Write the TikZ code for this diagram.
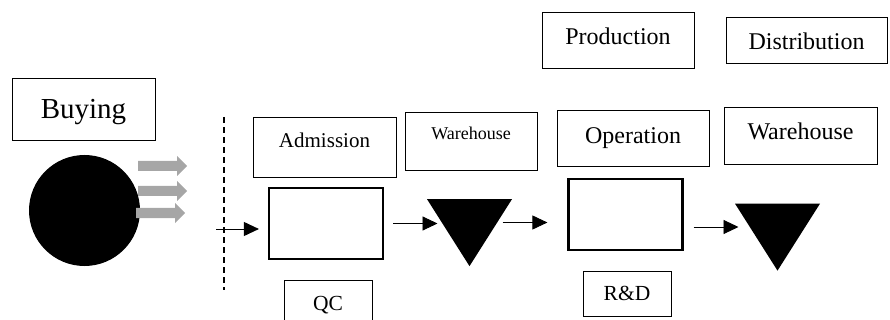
\documentclass[tikz,border=0pt]{standalone}
\usepackage{fontspec}
\setmainfont{Liberation Serif}
\usetikzlibrary{arrows.meta,shapes.geometric}
\tikzset{
  box/.style={draw, line width=0.8pt, inner sep=0pt, text depth=0pt},
  procbox/.style={draw, line width=2.2pt, inner sep=0pt, minimum width=114pt, minimum height=71pt},
  stock/.style={isosceles triangle, isosceles triangle stretches, shape border rotate=270,
    fill=black, inner sep=0pt, minimum width=85pt, minimum height=67pt},
  flow/.style={line width=0.9pt, -{Triangle[length=15pt,width=14pt]}}
}

\begin{document}
\begin{tikzpicture}[x=1pt,y=-1pt]
		%%%%% START %%%%%
		\useasboundingbox (0,0) rectangle (890,320);
		
		\node[box, minimum width=143pt, minimum height=62pt, text height=18.6pt, font=\fontsize{29}{32}\selectfont] (buying) at (83.5,109) {Buying};
		\node[circle, fill=black, inner sep=0pt, minimum size=111pt] (supplier) at (84.5,210.5) {};
		\foreach \y/\x in {166/138, 191/138, 213/136}
			\fill[black!35] (\x,{\y-5}) -- ({\x+39},{\y-5}) -- ({\x+39},{\y-10}) -- ({\x+49},\y)
				-- ({\x+39},{\y+10}) -- ({\x+39},{\y+5}) -- (\x,{\y+5}) -- cycle;
		
		\draw[line width=1.6pt, dash pattern=on 6pt off 4pt] (224,117) -- (224,290);
		
		\node[box, minimum width=143pt, minimum height=60pt, text height=0.6pt, font=\fontsize{21}{24}\selectfont] (admission) at (324.5,147) {Admission};
		\node[box, minimum width=132pt, minimum height=58pt, text height=0pt, text depth=2pt, font=\fontsize{18}{20}\selectfont] (wh1) at (471,141) {Warehouse};
		\node[box, minimum width=152pt, minimum height=56pt, text height=10pt, font=\fontsize{24}{27}\selectfont] (production) at (618,40) {Production};
		\node[box, minimum width=161pt, minimum height=46pt, text height=18.6pt, font=\fontsize{24}{27}\selectfont] (distribution) at (806.5,40) {Distribution};
		\node[box, minimum width=152pt, minimum height=56pt, text height=10.6pt, font=\fontsize{24}{27}\selectfont] (operation) at (633,138) {Operation};
		\node[box, minimum width=153pt, minimum height=57pt, text height=9pt, font=\fontsize{24}{27}\selectfont] (wh2) at (800.5,135.5) {Warehouse};
		\node[box, minimum width=88pt, minimum height=46pt, text height=14pt, font=\fontsize{21.5}{24}\selectfont] (qc) at (328,303) {QC};
		\node[box, minimum width=88pt, minimum height=45pt, text height=14.4pt, font=\fontsize{21.5}{24}\selectfont] (rd) at (627,293.5) {R\&D};
		
		\node[procbox] (proc1) at (326,223.5) {};
		\node[stock] (tri1) at (469.5,222.5) {};
		\node[procbox] (proc2) at (625.5,214.5) {};
		\node[stock] (tri2) at (777.5,227) {};
		
		\coordinate (entry) at (216,229);
		\draw[flow, shorten >=9pt] (entry) -- (entry -| proc1.west);
		\draw[flow, shorten <=9pt, shorten >=32pt] (proc1.east) -- (proc1.east -| tri1.center);
		\draw[flow, shorten <=33pt, shorten >=20pt] (tri1.center) -- (tri1.center -| proc2.west);
		\draw[flow, shorten <=10pt, shorten >=39pt] (proc2.east |- tri2.center) -- (tri2.center);
		
		%%%%% END %%%%%
\end{tikzpicture}
\end{document}
